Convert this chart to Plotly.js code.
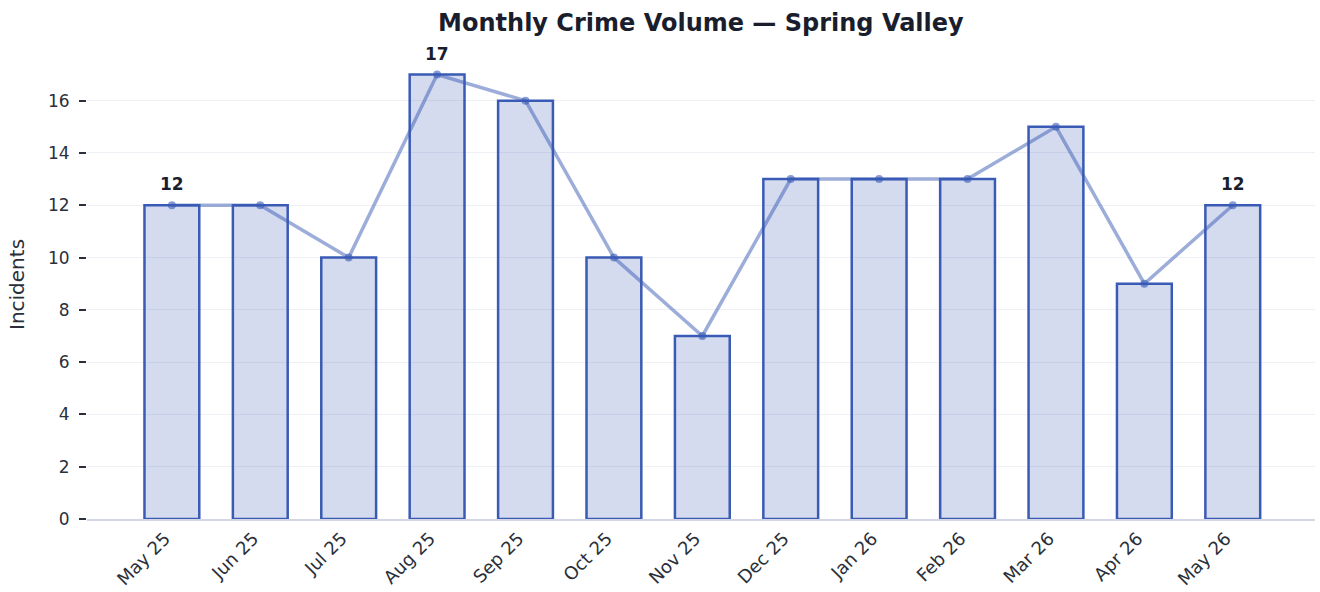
<!DOCTYPE html>
<html><head><meta charset="utf-8">
<script src="https://cdn.plot.ly/plotly-3.0.1.min.js"></script>
<style>body{margin:0;background:#fff}#c{width:1320px;height:592px}</style>
</head><body><div id="c"></div>
<script>
const months = ["May 25","Jun 25","Jul 25","Aug 25","Sep 25","Oct 25","Nov 25","Dec 25","Jan 26","Feb 26","Mar 26","Apr 26","May 26"];
const incidents = [12,12,10,17,16,10,7,13,13,13,15,9,12];
const labelIdx = [0,3,12];

const font = "DejaVu Sans, sans-serif";
const traces = [
  {type:"bar", x:months, y:incidents, width:0.62,
   marker:{color:"rgba(58,91,181,0.22)", line:{color:"#3a5bb5", width:2.5}},
   hoverinfo:"x+y"},
  {type:"scatter", mode:"lines+markers", x:months, y:incidents,
   line:{color:"rgba(58,91,181,0.5)", width:3.5},
   marker:{color:"rgba(58,91,181,0.6)", size:8}}
];
const annotations = labelIdx.map(i => ({
  x: months[i], y: incidents[i], text: "<b>"+incidents[i]+"</b>",
  showarrow:false, yshift:21, font:{family:font, size:17, color:"#1a1e2c"}
}));
annotations.push({xref:"paper", yref:"paper", x:-0.057, y:0.5, xanchor:"center", yanchor:"middle",
  textangle:-90, showarrow:false, text:"Incidents", font:{family:font, size:20, color:"#2a2f3a"}});
const layout = {
  width:1320, height:592,
  margin:{l:87, r:5, t:51, b:73},
  paper_bgcolor:"#fff", plot_bgcolor:"#fff",
  showlegend:false,
  title:{text:"<b>Monthly Crime Volume — Spring Valley</b>", x:0.531, xanchor:"center", y:0.962, yanchor:"middle",
         font:{family:font, size:24, color:"#1a1e2c"}},
  font:{family:font, color:"#2a2f3a"},
  xaxis:{type:"category", range:[-0.96, 12.93], tickangle:-45, tickfont:{family:font, size:18, color:"#2a2f3a"},
         showgrid:false, showline:true, linecolor:"#d3d6e4", linewidth:2, ticks:"", zeroline:false,
         ticklabelshift:-7},
  yaxis:{range:[0,17.9], dtick:2, tick0:0, tickfont:{family:font, size:17, color:"#2a2f3a"},
         showgrid:true, gridcolor:"#eef0f5", gridwidth:1, zeroline:false, showline:false,
         ticks:"outside", ticklen:7, tickwidth:1.5, tickcolor:"#2a2f3a", ticklabelstandoff:6},
  annotations: annotations
};
Plotly.newPlot("c", traces, layout, {displayModeBar:false});
</script></body></html>
